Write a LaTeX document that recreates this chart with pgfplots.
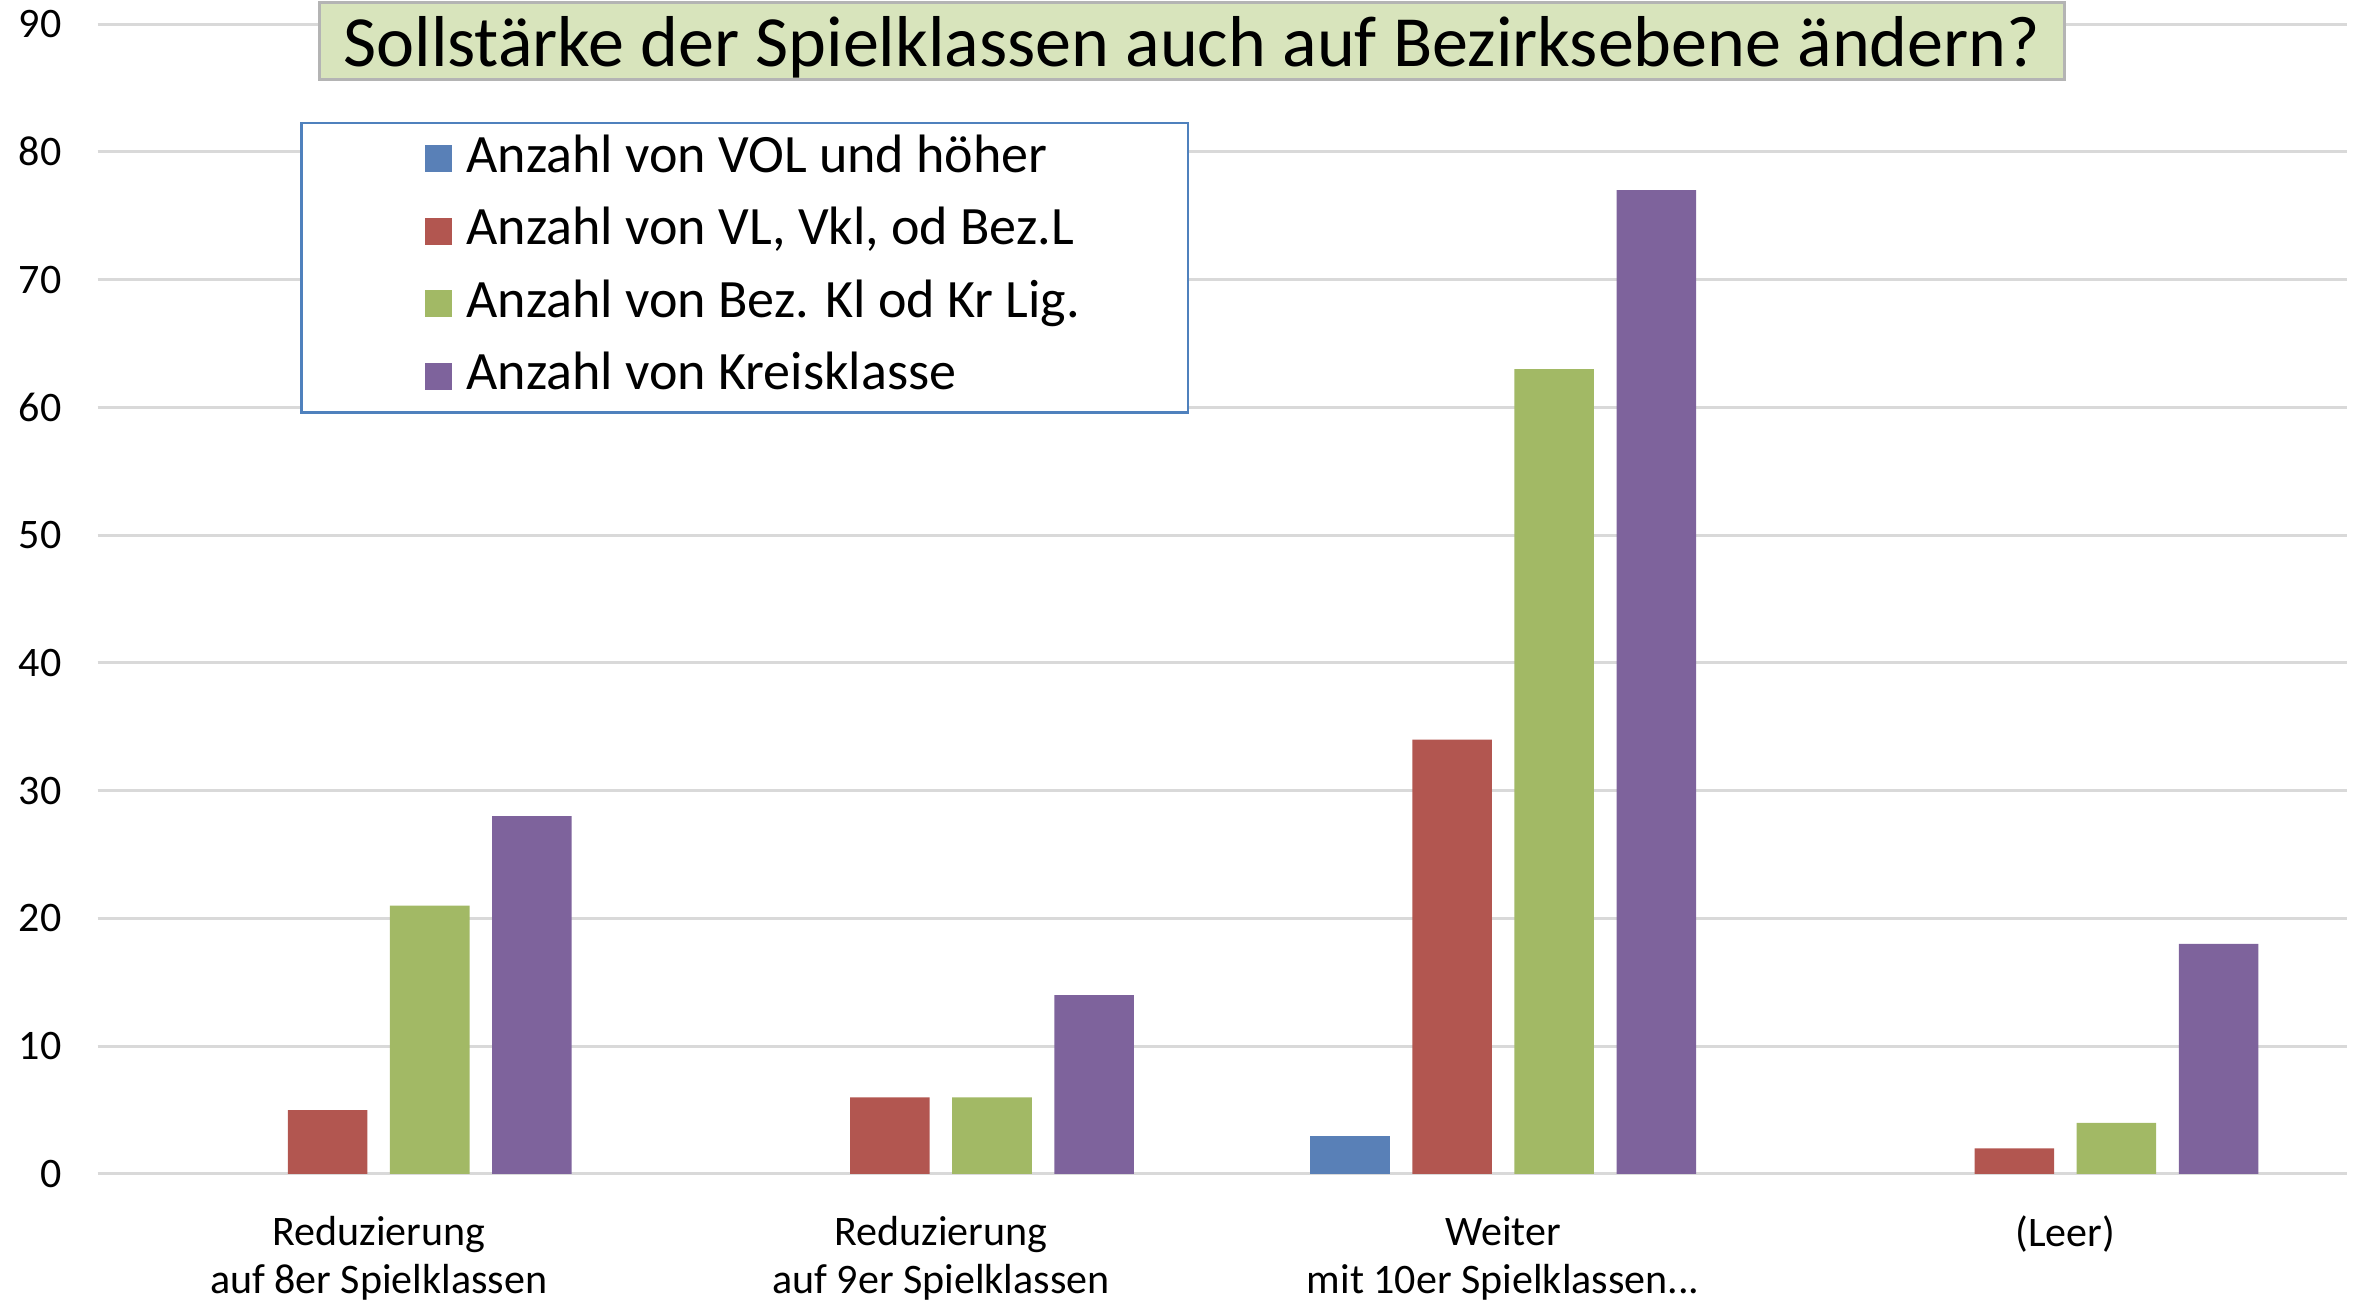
\documentclass[border=0pt]{standalone}
\usepackage{pgfplots}
\pgfplotsset{compat=1.18}
\usepackage{fontspec}
\setmainfont{Carlito}
\definecolor{cblue}{HTML}{5980B7}
\definecolor{cred}{HTML}{B25650}
\definecolor{cgreen}{HTML}{A2B965}
\definecolor{cpurple}{HTML}{7E639C}
\definecolor{gridgray}{HTML}{D9D9D9}
\definecolor{titlegreen}{HTML}{D8E4BC}
\definecolor{titleborder}{HTML}{B4B4B4}
\definecolor{legborder}{HTML}{4F81BD}
\begin{document}
\begin{tikzpicture}
\useasboundingbox (-32.5pt,-42pt) rectangle (751.5pt,391pt);
\begin{axis}[
  at={(0,0)}, anchor=south west,
  scale only axis, width=749pt, height=383pt,
  clip=false,
  xmin=-0.5, xmax=3.5, ymin=0, ymax=90,
  ytick={0,10,...,90},
  xtick={0,1,2,3},
  xticklabels={{Reduzierung\\auf 8er Spielklassen},{Reduzierung\\auf 9er Spielklassen},{Weiter\\mit 10er Spielklassen.{}.{}.},{(Leer)}},
  ymajorgrids, grid style={draw=gridgray, line width=1pt},
  axis line style={draw=none},
  major tick length=0pt,
  /pgf/number format/assume math mode=true,
  yticklabel style={font=\fontsize{14}{16}\selectfont, xshift=-8.5pt},
  xticklabel style={font=\fontsize{14}{16}\selectfont, align=center, yshift=-10.5pt},
  legend style={at={(0.0901,0.9151)}, anchor=north west, draw=legborder, line width=0.8pt,
    inner xsep=31pt, inner ysep=2.5pt, row sep=5.15pt,
    font=\fontsize{18}{20}\selectfont,
    nodes={inner xsep=5pt, inner ysep=1pt, text height=13pt, text depth=4pt}},
  legend cell align=left,
  legend image code/.code={\path (0pt,0pt); \fill[#1] (10pt,-4.5pt) rectangle (19pt,4.5pt);},
]
\addplot[ybar, bar width=26.5pt, fill=cblue, draw=none, bar shift=-51pt] coordinates {(2,3)};
\addplot[ybar, bar width=26.5pt, fill=cred, draw=none, bar shift=-17pt] coordinates {(0,5) (1,6) (2,34) (3,2)};
\addplot[ybar, bar width=26.5pt, fill=cgreen, draw=none, bar shift=17pt] coordinates {(0,21) (1,6) (2,63) (3,4)};
\addplot[ybar, bar width=26.5pt, fill=cpurple, draw=none, bar shift=51pt] coordinates {(0,28) (1,14) (2,77) (3,18)};
\legend{Anzahl von VOL und höher, {Anzahl von VL, Vkl, od Bez.L}, Anzahl von Bez. Kl od Kr Lig., Anzahl von Kreisklasse}
\node[fill=titlegreen, draw=titleborder, line width=1pt, minimum width=581pt, minimum height=25.5pt, anchor=north, inner sep=0pt, text height=20pt, text depth=3pt, font=\fontsize{24}{28}\selectfont] at ([yshift=7.5pt]rel axis cs:0.4866,1) {Sollstärke der Spielklassen auch auf Bezirksebene ändern?};
\end{axis}
\end{tikzpicture}
\end{document}
